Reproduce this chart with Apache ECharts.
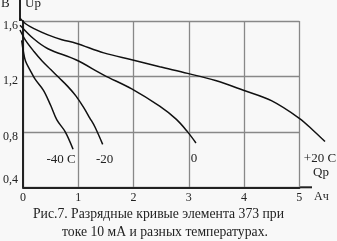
<!DOCTYPE html>
<html><head><meta charset="utf-8">
<script src="https://cdn.jsdelivr.net/npm/echarts@6/dist/echarts.min.js"></script>
<style>html,body{margin:0;padding:0;background:#f8f8f8}#c{width:337px;height:241px}</style>
</head><body><div id="c"></div>
<script>
// Capacity (Ah), Voltage (V) pairs
const curveP20 = [[0,1.62],[0.1,1.58],[0.25,1.545],[0.5,1.50],[0.75,1.465],[1,1.44],[1.5,1.37],[2,1.32],[2.5,1.27],[3,1.222],[3.5,1.17],[4,1.10],[4.5,1.025],[5,0.898],[5.25,0.81],[5.46,0.73]];
const curve0 = [[0,1.57],[0.25,1.47],[0.5,1.40],[1,1.32],[1.5,1.21],[2,1.11],[2.5,0.985],[2.8,0.89],[3,0.80],[3.15,0.72]];
const curveM20 = [[0,1.535],[0.1,1.46],[0.25,1.38],[0.4,1.31],[0.55,1.25],[0.7,1.19],[0.85,1.13],[1.0,1.06],[1.13,0.982],[1.25,0.90],[1.34,0.837],[1.48,0.71]];
const curveM40 = [[0.03,1.46],[0.06,1.38],[0.1,1.31],[0.18,1.246],[0.27,1.18],[0.42,1.10],[0.55,0.99],[0.66,0.886],[0.81,0.80],[0.95,0.674]];
const seriesNames = ['+20 C','0','-20','-40 C'];
const xTicks = [0,1,2,3,4,5];
const yTicks = [0.4,0.8,1.2,1.6];
const captionLines = ['Рис.7. Разрядные кривые элемента 373 при','токе 10 мА и разных температурах.'];

const FONT = '"Liberation Serif", "DejaVu Serif", serif';
const chart = echarts.init(document.getElementById('c'));
// grid 0: axes and grid lines; grid 1: same scale, larger extent so curves may run past 5 Ah
const L = 20, T = 21, W = 279.3, H = 166.3;
const xMax = xTicks[xTicks.length-1], yMin = yTicks[0], yMax = yTicks[yTicks.length-1];
const xMax2 = 5.6, yMax2 = 1.7;
const pxX = W / (xMax - xTicks[0]), pxY = H / (yMax - yMin);
const W2 = pxX * (xMax2 - xTicks[0]), H2 = pxY * (yMax2 - yMin);
function mk(name, data, off){
  return {type:'line', name, data, smooth:0.35, showSymbol:false, xAxisIndex:1, yAxisIndex:1,
    lineStyle:{color:'#111', width:1.5},
    endLabel:{show:true, formatter:name, distance:0, align:'center', verticalAlign:'middle',
      offset:off, color:'#222', fontFamily:FONT, fontSize:13}};
}
chart.setOption({
  backgroundColor:'#f8f8f8',
  animation:false,
  grid:[{left:L, top:T, width:W, height:H},
        {left:L, top:T + H - H2, width:W2, height:H2}],
  xAxis:[{type:'value', gridIndex:0, min:xTicks[0], max:xMax, interval:1,
    axisLine:{lineStyle:{color:'#222', width:2}}, axisTick:{show:false},
    axisLabel:{color:'#222', fontFamily:FONT, fontSize:12, margin:5},
    splitLine:{lineStyle:{color:'#888', width:1.3}}},
    {type:'value', gridIndex:1, min:xTicks[0], max:xMax2, show:false, splitLine:{show:false}}],
  yAxis:[{type:'value', gridIndex:0, min:yMin, max:yMax, interval:0.4,
    axisLine:{show:true, lineStyle:{color:'#222', width:2}}, axisTick:{show:false},
    axisLabel:{color:'#222', fontFamily:FONT, fontSize:12, margin:5,
      formatter:v=>{const s=v.toFixed(1).replace('.',','); return Math.abs(v-0.4)<1e-6?'{b|'+s+'}':'{a|'+s+'}';},
      rich:{a:{fontFamily:FONT, fontSize:12, color:'#222', padding:[9,0,0,0]},
            b:{fontFamily:FONT, fontSize:12, color:'#222', padding:[0,0,14,0]}}},
    splitLine:{lineStyle:{color:'#888', width:1.3}}},
    {type:'value', gridIndex:1, min:yMin, max:yMax2, show:false, splitLine:{show:false}}],
  series:[mk(seriesNames[0],curveP20,[-5,17]), mk(seriesNames[1],curve0,[-2,16]),
          mk(seriesNames[2],curveM20,[2,15]), mk(seriesNames[3],curveM40,[-12,10])],
  graphic:[
    {type:'line', shape:{x1:20,y1:0,x2:20,y2:21}, style:{stroke:'#222', lineWidth:2}},
    {type:'line', shape:{x1:299,y1:187.3,x2:312,y2:187.3}, style:{stroke:'#222', lineWidth:2}},
    {type:'text', left:1, top:-3, style:{text:'B', font:'13px '+FONT, fill:'#222'}},
    {type:'text', left:25, top:-3, style:{text:'Up', font:'13px '+FONT, fill:'#222'}},
    {type:'text', left:313, top:166, style:{text:'Qp', font:'13px '+FONT, fill:'#222'}},
    {type:'text', left:314, top:191, style:{text:'Ач', font:'12px '+FONT, fill:'#222'}},
    {type:'text', left:33, top:207, style:{text:captionLines[0], font:'13.7px '+FONT, fill:'#222'}},
    {type:'text', left:62, top:225, style:{text:captionLines[1], font:'13.7px '+FONT, fill:'#222'}}
  ]
});
</script></body></html>
